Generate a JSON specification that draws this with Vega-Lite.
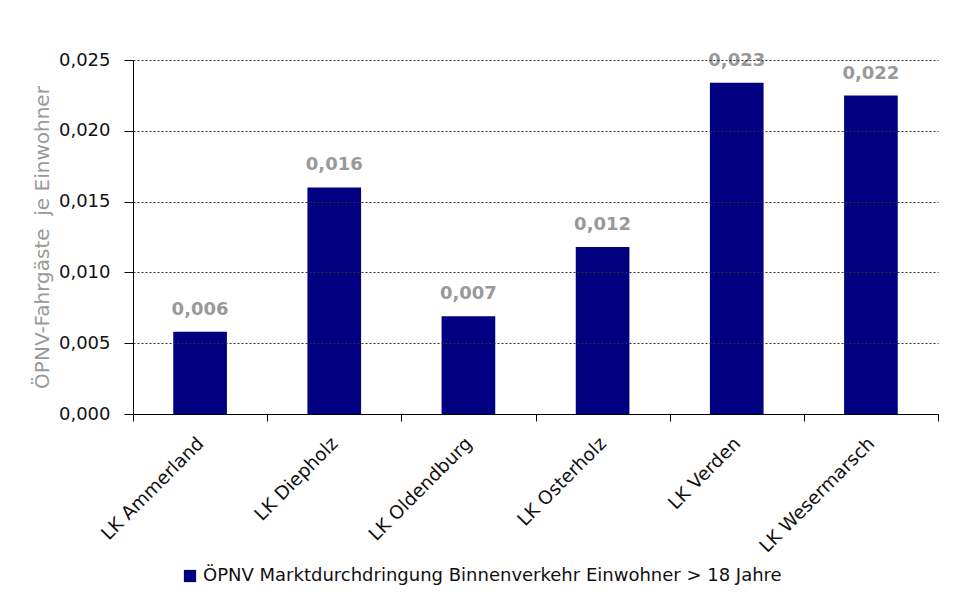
{
  "$schema": "https://vega.github.io/schema/vega-lite/v6.json",
  "width": 805,
  "height": 354,
  "autosize": {"type": "none"},
  "padding": {"left": 133, "top": 60, "right": 20, "bottom": 190},
  "background": "white",
  "config": {
    "locale": {"number": {"decimal": ",", "thousands": ".", "grouping": [3], "currency": ["", " €"]}},
    "view": {"stroke": null},
    "font": "DejaVu Sans"
  },
  "data": {
    "values": [
      {"kreis": "LK Ammerland", "wert": 0.0058, "serie": "ÖPNV Marktdurchdringung Binnenverkehr Einwohner > 18 Jahre"},
      {"kreis": "LK Diepholz", "wert": 0.0160, "serie": "ÖPNV Marktdurchdringung Binnenverkehr Einwohner > 18 Jahre"},
      {"kreis": "LK Oldendburg", "wert": 0.0069, "serie": "ÖPNV Marktdurchdringung Binnenverkehr Einwohner > 18 Jahre"},
      {"kreis": "LK Osterholz", "wert": 0.0118, "serie": "ÖPNV Marktdurchdringung Binnenverkehr Einwohner > 18 Jahre"},
      {"kreis": "LK Verden", "wert": 0.0234, "serie": "ÖPNV Marktdurchdringung Binnenverkehr Einwohner > 18 Jahre"},
      {"kreis": "LK Wesermarsch", "wert": 0.02249, "serie": "ÖPNV Marktdurchdringung Binnenverkehr Einwohner > 18 Jahre"}
    ]
  },
  "encoding": {
    "x": {
      "field": "kreis",
      "type": "nominal",
      "sort": null,
      "scale": {"paddingInner": 0, "paddingOuter": 0},
      "axis": {
        "title": null,
        "labelAngle": -45,
        "labelAlign": "right",
        "labelBaseline": "middle",
        "labelFontSize": 18.5,
        "labelColor": "#111",
        "labelPadding": 19,
        "tickBand": "extent",
        "tickSize": 7,
        "tickColor": "#000",
        "domainColor": "#000",
        "zindex": 2
      }
    },
    "y": {
      "field": "wert",
      "type": "quantitative",
      "scale": {"domain": [0, 0.025], "nice": false, "zero": true},
      "axis": {
        "title": "ÖPNV-Fahrgäste\u00a0 je Einwohner",
        "titleColor": "#999",
        "titleFontSize": 20,
        "titleFontWeight": "normal",
        "titlePadding": 6,
        "values": [0, 0.005, 0.01, 0.015, 0.02, 0.025],
        "format": ".3f",
        "labelFontSize": 18,
        "labelColor": "#111",
        "labelPadding": 14,
        "tickSize": 9,
        "tickColor": "#000",
        "domainColor": "#000",
        "grid": true,
        "gridColor": "#333",
        "gridDash": [2, 2],
        "gridOpacity": 1,
        "zindex": 1
      }
    }
  },
  "layer": [
    {
      "mark": {"type": "bar", "width": {"band": 0.4}},
      "encoding": {
        "color": {
          "field": "serie",
          "type": "nominal",
          "scale": {"range": ["#000080"]},
          "legend": {
            "title": null,
            "orient": "none",
            "legendX": 48,
            "legendY": 507,
            "symbolType": "square",
            "symbolSize": 150,
            "symbolStrokeWidth": 0,
            "labelFontSize": 18,
            "labelColor": "#111",
            "labelLimit": 900,
            "labelOffset": 4
          }
        }
      }
    },
    {
      "mark": {"type": "text", "baseline": "alphabetic", "dy": -17, "fontSize": 18, "fontWeight": "bold", "color": "#999"},
      "encoding": {
        "text": {"field": "wert", "type": "quantitative", "format": ".3f"}
      }
    }
  ]
}
